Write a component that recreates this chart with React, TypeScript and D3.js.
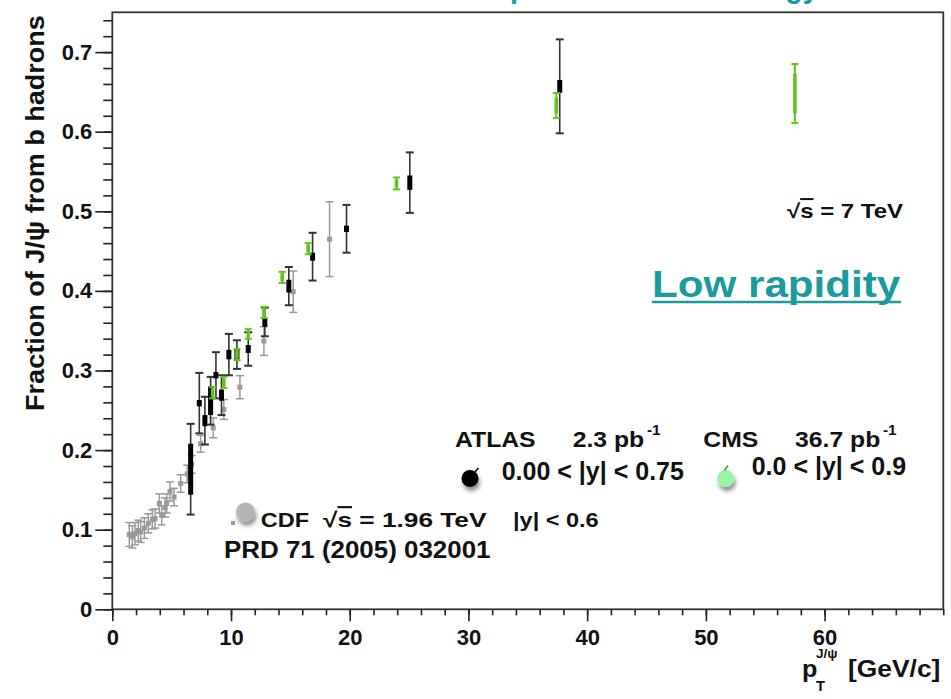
import { useEffect, useRef } from "react";
import * as d3 from "d3";

const W = 951;
const H = 699;
const PLOT = { left: 112.3, right: 943.3, top: 12.3, bottom: 609.3 };
const FONT = "'Liberation Sans', Arial, Helvetica, sans-serif";
const TEAL = "#1a9b9c";

// CDF, sqrt(s) = 1.96 TeV, |y| < 0.6
const cdfPt = [1.43, 1.69, 1.91, 2.19, 2.39, 2.7, 3.03, 3.37, 3.6, 3.96, 4.16, 4.44, 4.58, 4.86, 5.2, 5.76, 6.31, 6.68, 7.44, 8.5, 9.4, 10.75, 12.77, 15.24, 18.3];
const cdfFrac = [0.094, 0.091, 0.095, 0.099, 0.097, 0.102, 0.108, 0.113, 0.114, 0.133, 0.118, 0.128, 0.133, 0.148, 0.141, 0.158, 0.17, 0.182, 0.208, 0.228, 0.251, 0.279, 0.337, 0.399, 0.465];
const cdfErr = [0.015, 0.014, 0.014, 0.013, 0.013, 0.013, 0.012, 0.012, 0.012, 0.012, 0.012, 0.012, 0.012, 0.012, 0.011, 0.011, 0.011, 0.011, 0.0105, 0.0125, 0.0125, 0.0145, 0.018, 0.026, 0.047];

// ATLAS 2.3 pb-1, 0 < |y| < 0.75
const atlasPt = [6.6, 7.33, 7.8, 8.28, 8.73, 9.2, 9.82, 10.5, 11.45, 12.85, 14.87, 16.87, 19.73, 25.06, 37.69];
const atlasFrac = [0.176, 0.259, 0.237, 0.262, 0.294, 0.269, 0.32, 0.32, 0.327, 0.361, 0.406, 0.443, 0.478, 0.536, 0.657];
const atlasStat = [0.032, 0.004, 0.007, 0.018, 0.004, 0.007, 0.006, 0.006, 0.005, 0.006, 0.008, 0.005, 0.004, 0.009, 0.008];
const atlasTot = [0.057, 0.038, 0.03, 0.03, 0.029, 0.025, 0.026, 0.018, 0.021, 0.018, 0.024, 0.03, 0.03, 0.038, 0.059];

// CMS 36.7 pb-1, 0 < |y| < 0.9
const cmsPt = [8.45, 9.4, 10.5, 11.45, 12.77, 14.31, 16.5, 23.94, 37.4, 57.5];
const cmsFrac = [0.272, 0.285, 0.32, 0.346, 0.373, 0.417, 0.453, 0.535, 0.633, 0.648];
const cmsStat = [0.005, 0.005, 0.005, 0.004, 0.005, 0.005, 0.005, 0.005, 0.01, 0.025];
const cmsTot = [0.007, 0.007, 0.007, 0.006, 0.007, 0.007, 0.007, 0.0075, 0.0157, 0.037];

const X_TICKS = [0, 10, 20, 30, 40, 50, 60];
const Y_TICKS = [0, 0.1, 0.2, 0.3, 0.4, 0.5, 0.6, 0.7];

const x = d3.scaleLinear().domain([0, 70]).range([PLOT.left, PLOT.right]);
const y = d3.scaleLinear().domain([0, 0.75]).range([PLOT.bottom, PLOT.top]);

const Txt = ({ x, y, size, sx = 1, anchor = "start", fill = "#111", weight = "bold", children, rotate = 0 }: any) => (
  <text
    transform={`translate(${x},${y}) rotate(${rotate}) scale(${sx},1)`}
    fontSize={size}
    fontFamily={FONT}
    fontWeight={weight}
    textAnchor={anchor}
    fill={fill}
  >
    {children}
  </text>
);

export default function App() {
  const xAxisRef = useRef<SVGGElement>(null);
  const yAxisRef = useRef<SVGGElement>(null);

  useEffect(() => {
    const gx = d3.select(xAxisRef.current);
    gx.selectAll("*").remove();
    gx.append("g").call(
      d3.axisBottom(x).tickValues(d3.range(0, 36).map((i) => i * 2)).tickSize(6).tickFormat(() => "")
    );
    gx.append("g").call(
      d3.axisBottom(x).tickValues(X_TICKS).tickSize(12).tickPadding(8).tickFormat(d3.format("d"))
    );

    const gy = d3.select(yAxisRef.current);
    gy.selectAll("*").remove();
    gy.append("g").call(
      d3.axisLeft(y).tickValues(d3.range(0, 38).map((i) => i * 0.02)).tickSize(9).tickFormat(() => "")
    );
    gy.append("g").call(
      d3.axisLeft(y).tickValues(Y_TICKS).tickSize(17).tickPadding(3)
        .tickFormat((d: any) => (d === 0 ? "0" : d3.format(".1f")(d)))
    );

    [gx, gy].forEach((g) => {
      g.selectAll(".domain").remove();
      g.selectAll("line").attr("stroke", "#222").attr("stroke-width", 1.6);
      g.selectAll("text")
        .attr("font-size", 22)
        .attr("font-weight", "bold")
        .attr("font-family", FONT)
        .attr("fill", "#111");
    });
  }, []);

  return (
    <svg width={W} height={H} style={{ position: "absolute", left: 0, top: 0, background: "#fff" }}>
      <defs>
        <filter id="shadow" x="-50%" y="-50%" width="200%" height="220%">
          <feDropShadow dx="1.5" dy="4" stdDeviation="2.2" floodColor="#000" floodOpacity="0.45" />
        </filter>
      </defs>

      {/* slide title above the plot, mostly outside the picture */}
      <Txt x={446} y={-3} size={32} sx={0.9} fill={TEAL}>Comparison to CDF energy</Txt>

      <rect
        x={PLOT.left}
        y={PLOT.top}
        width={PLOT.right - PLOT.left}
        height={PLOT.bottom - PLOT.top}
        fill="none"
        stroke="#333"
        strokeWidth={1.8}
      />
      <g ref={xAxisRef} transform={`translate(0,${PLOT.bottom})`} />
      <g ref={yAxisRef} transform={`translate(${PLOT.left},0)`} />

      {/* CDF */}
      {cdfPt.map((pt, i) => {
        const cx = x(pt);
        return (
          <g key={`cdf-${i}`} stroke="#9a9a9a" strokeWidth={1.5}>
            <line x1={cx} x2={cx} y1={y(cdfFrac[i] - cdfErr[i])} y2={y(cdfFrac[i] + cdfErr[i])} />
            <line x1={cx - 4} x2={cx + 4} y1={y(cdfFrac[i] - cdfErr[i])} y2={y(cdfFrac[i] - cdfErr[i])} />
            <line x1={cx - 4} x2={cx + 4} y1={y(cdfFrac[i] + cdfErr[i])} y2={y(cdfFrac[i] + cdfErr[i])} />
            <rect x={cx - 2.5} y={y(cdfFrac[i]) - 2.5} width={5} height={5} fill="#9a9a9a" stroke="none" />
          </g>
        );
      })}

      {/* ATLAS */}
      {atlasPt.map((pt, i) => {
        const cx = x(pt);
        const lo = y(atlasFrac[i] - atlasTot[i]);
        const hi = y(atlasFrac[i] + atlasTot[i]);
        return (
          <g key={`atlas-${i}`}>
            <line x1={cx} x2={cx} y1={lo} y2={hi} stroke="#333" strokeWidth={1.6} />
            <line x1={cx - 4} x2={cx + 4} y1={lo} y2={lo} stroke="#333" strokeWidth={2} />
            <line x1={cx - 4} x2={cx + 4} y1={hi} y2={hi} stroke="#333" strokeWidth={2} />
            <rect
              x={cx - 2.5}
              y={y(atlasFrac[i] + atlasStat[i])}
              width={5}
              height={Math.max(5, y(atlasFrac[i] - atlasStat[i]) - y(atlasFrac[i] + atlasStat[i]))}
              fill="#000"
            />
          </g>
        );
      })}

      {/* CMS */}
      {cmsPt.map((pt, i) => {
        const cx = x(pt);
        const lo = y(cmsFrac[i] - cmsTot[i]);
        const hi = y(cmsFrac[i] + cmsTot[i]);
        return (
          <g key={`cms-${i}`} stroke="#66c11e">
            <line x1={cx} x2={cx} y1={lo} y2={hi} strokeWidth={2} />
            <line x1={cx - 3.5} x2={cx + 3.5} y1={lo} y2={lo} strokeWidth={2} />
            <line x1={cx - 3.5} x2={cx + 3.5} y1={hi} y2={hi} strokeWidth={2} />
            <rect
              x={cx - 1.8}
              y={y(cmsFrac[i] + cmsStat[i])}
              width={3.6}
              height={y(cmsFrac[i] - cmsStat[i]) - y(cmsFrac[i] + cmsStat[i])}
              fill="#66c11e"
              stroke="none"
            />
          </g>
        );
      })}

      {/* annotations */}
      <Txt x={787} y={218} size={20} sx={1.2}>
        <tspan>√</tspan>
        <tspan style={{ textDecoration: "overline" }}>s</tspan>
        <tspan> = 7 TeV</tspan>
      </Txt>
      <Txt x={652} y={297} size={37} sx={1.14} fill={TEAL}>Low rapidity</Txt>
      <line x1={652} x2={901} y1={302} y2={302} stroke={TEAL} strokeWidth={2.5} />

      {/* ATLAS / CMS legend */}
      <Txt x={455} y={446.7} size={22.5} sx={1.1}>ATLAS</Txt>
      <Txt x={572.7} y={446.7} size={22.5} sx={1.1}>2.3 pb</Txt>
      <Txt x={647} y={435} size={14} sx={1.1}>-1</Txt>
      <Txt x={703.3} y={446.7} size={22.5} sx={1.1}>CMS</Txt>
      <Txt x={795} y={446.7} size={22.5} sx={1.1}>36.7 pb</Txt>
      <Txt x={883} y={435} size={14} sx={1.1}>-1</Txt>
      <circle cx={470} cy={478.5} r={8.5} fill="#000" filter="url(#shadow)" />
      <line x1={475} y1={472} x2={478.5} y2={468} stroke="#000" strokeWidth={1.5} />
      <Txt x={501.7} y={480} size={25}>0.00 &lt; |y| &lt; 0.75</Txt>
      <circle cx={725.7} cy={478.5} r={8.5} fill="#98f5a8" filter="url(#shadow)" />
      <line x1={724.5} y1={470.5} x2={728} y2={465.5} stroke="#4da51c" strokeWidth={1.6} />
      <Txt x={751.7} y={475} size={25}>0.0 &lt; |y| &lt; 0.9</Txt>

      {/* CDF legend */}
      <rect x={231} y={521} width={4} height={4} fill="#9a9a9a" />
      <circle cx={245.5} cy={512} r={9.5} fill="#b5b5b5" filter="url(#shadow)" />
      <Txt x={260.7} y={527.3} size={21} sx={1.12}>CDF</Txt>
      <Txt x={323} y={527.3} size={21} sx={1.25}>
        <tspan>√</tspan>
        <tspan style={{ textDecoration: "overline" }}>s</tspan>
        <tspan> = 1.96 TeV</tspan>
      </Txt>
      <Txt x={513} y={527.3} size={21} sx={1.12}>|y| &lt; 0.6</Txt>
      <Txt x={224} y={558.3} size={24} sx={1.08}>PRD 71 (2005) 032001</Txt>

      {/* axis titles */}
      <Txt x={44} y={213} size={26} sx={1.04} anchor="middle" rotate={-90}>
        Fraction of J/ψ from b hadrons
      </Txt>
      <Txt x={802} y={677} size={24} sx={1.05}>p</Txt>
      <Txt x={816} y={691} size={14} sx={1.05}>T</Txt>
      <Txt x={816} y={658} size={13} sx={1.05}>J/ψ</Txt>
      <Txt x={848} y={677} size={24} sx={1.1}>[GeV/c]</Txt>
    </svg>
  );
}
